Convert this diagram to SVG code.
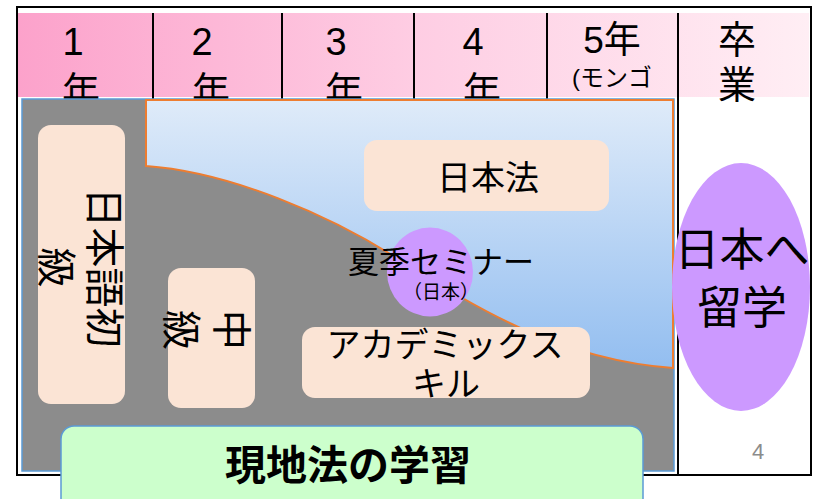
<svg xmlns="http://www.w3.org/2000/svg" width="815" height="499" viewBox="0 0 815 499">
<defs>
<linearGradient id="hdr" x1="0" y1="0" x2="1" y2="0">
<stop offset="0" stop-color="#FCA2CB"/><stop offset="0.5" stop-color="#FECDE3"/><stop offset="1" stop-color="#FFEEF4"/>
</linearGradient>
<linearGradient id="sky" x1="0" y1="0" x2="0" y2="1">
<stop offset="0" stop-color="#DFEBF9"/><stop offset="1" stop-color="#93BEF0"/>
</linearGradient>
</defs>
<style>
text{font-family:"Liberation Sans","Noto Sans CJK JP",sans-serif;fill:#000;text-anchor:middle}
.h{font-size:38px}
.peach{fill:#FBE4D5}
.purple{fill:#CC99FF}
.div{stroke:#000;stroke-width:2}
</style>
<rect x="0" y="0" width="815" height="499" fill="#fff"/>
<g id="header">
<rect x="18" y="13" width="791" height="84" fill="url(#hdr)"/>
<line class="div" x1="153" y1="13" x2="153" y2="99"/>
<line class="div" x1="282" y1="13" x2="282" y2="99"/>
<line class="div" x1="414" y1="13" x2="414" y2="99"/>
<line class="div" x1="547" y1="13" x2="547" y2="99"/>
<line class="div" x1="678" y1="13" x2="678" y2="475"/>
<text class="h"><tspan x="73" y="55">1</tspan><tspan x="81" y="104">年</tspan></text>
<text class="h"><tspan x="202" y="55">2</tspan><tspan x="211" y="104">年</tspan></text>
<text class="h"><tspan x="336" y="55">3</tspan><tspan x="344" y="104">年</tspan></text>
<text class="h"><tspan x="473" y="55">4</tspan><tspan x="482" y="104">年</tspan></text>
<text><tspan x="612" y="53" font-size="37">5年</tspan><tspan x="612" y="86" font-size="24">(モンゴ</tspan></text>
<text class="h"><tspan x="737" y="53">卒</tspan><tspan x="737" y="98">業</tspan></text>
</g>
<g id="local-area">
<rect x="22" y="99" width="652" height="372" fill="#8C8C8C" stroke="#5B9BD5" stroke-width="1.5"/>
</g>
<g id="japan-area">
<path d="M146,100 H673 V368 C560,360 470,305 400,260 C330,215 230,172 146,166 Z" fill="url(#sky)" stroke="#ED7D31" stroke-width="2"/>
</g>
<g id="node-beginner">
<rect class="peach" x="38" y="125" width="87" height="279" rx="13"/>
<text font-size="40" transform="translate(81.5,264.5) rotate(90)"><tspan x="3" y="-8.5">日本語初</tspan><tspan x="3" y="39.5">級</tspan></text>
</g>
<g id="node-intermediate">
<rect class="peach" x="168" y="268" width="87" height="140" rx="13"/>
<text font-size="40" transform="translate(211.5,338) rotate(90)"><tspan x="-8" y="-5">中</tspan><tspan x="-8" y="44.5">級</tspan></text>
</g>
<g id="node-law">
<rect class="peach" x="364" y="140" width="245" height="71" rx="13"/>
<text x="488" y="190" font-size="34">日本法</text>
</g>
<g id="node-academic">
<rect class="peach" x="302" y="327" width="288" height="71" rx="13"/>
<text font-size="34"><tspan x="445" y="357">アカデミックス</tspan><tspan x="446" y="396">キル</tspan></text>
</g>
<g id="node-seminar">
<ellipse class="purple" cx="430" cy="272" rx="43" ry="44.5"/>
<text x="441" y="273" font-size="31">夏季セミナー</text>
<text x="441" y="299" font-size="19">（日本）</text>
</g>
<g id="frame">
<rect x="17" y="7" width="794" height="468" fill="none" stroke="#000" stroke-width="2"/>
</g>
<g id="node-study-abroad">
<ellipse class="purple" cx="741" cy="287" rx="69" ry="124"/>
<text font-size="45"><tspan x="742" y="266">日本へ</tspan><tspan x="742" y="324">留学</tspan></text>
</g>
<g id="node-local-law">
<rect x="61" y="426" width="582" height="95" rx="13" fill="#CCFFCC" stroke="#5B9BD5" stroke-width="1.5"/>
<text x="348" y="480" font-size="41" font-weight="bold">現地法の学習</text>
</g>
<text x="758" y="459" font-size="22" style="fill:#8C8C8C">4</text>
<g id="connectors"/>
</svg>
